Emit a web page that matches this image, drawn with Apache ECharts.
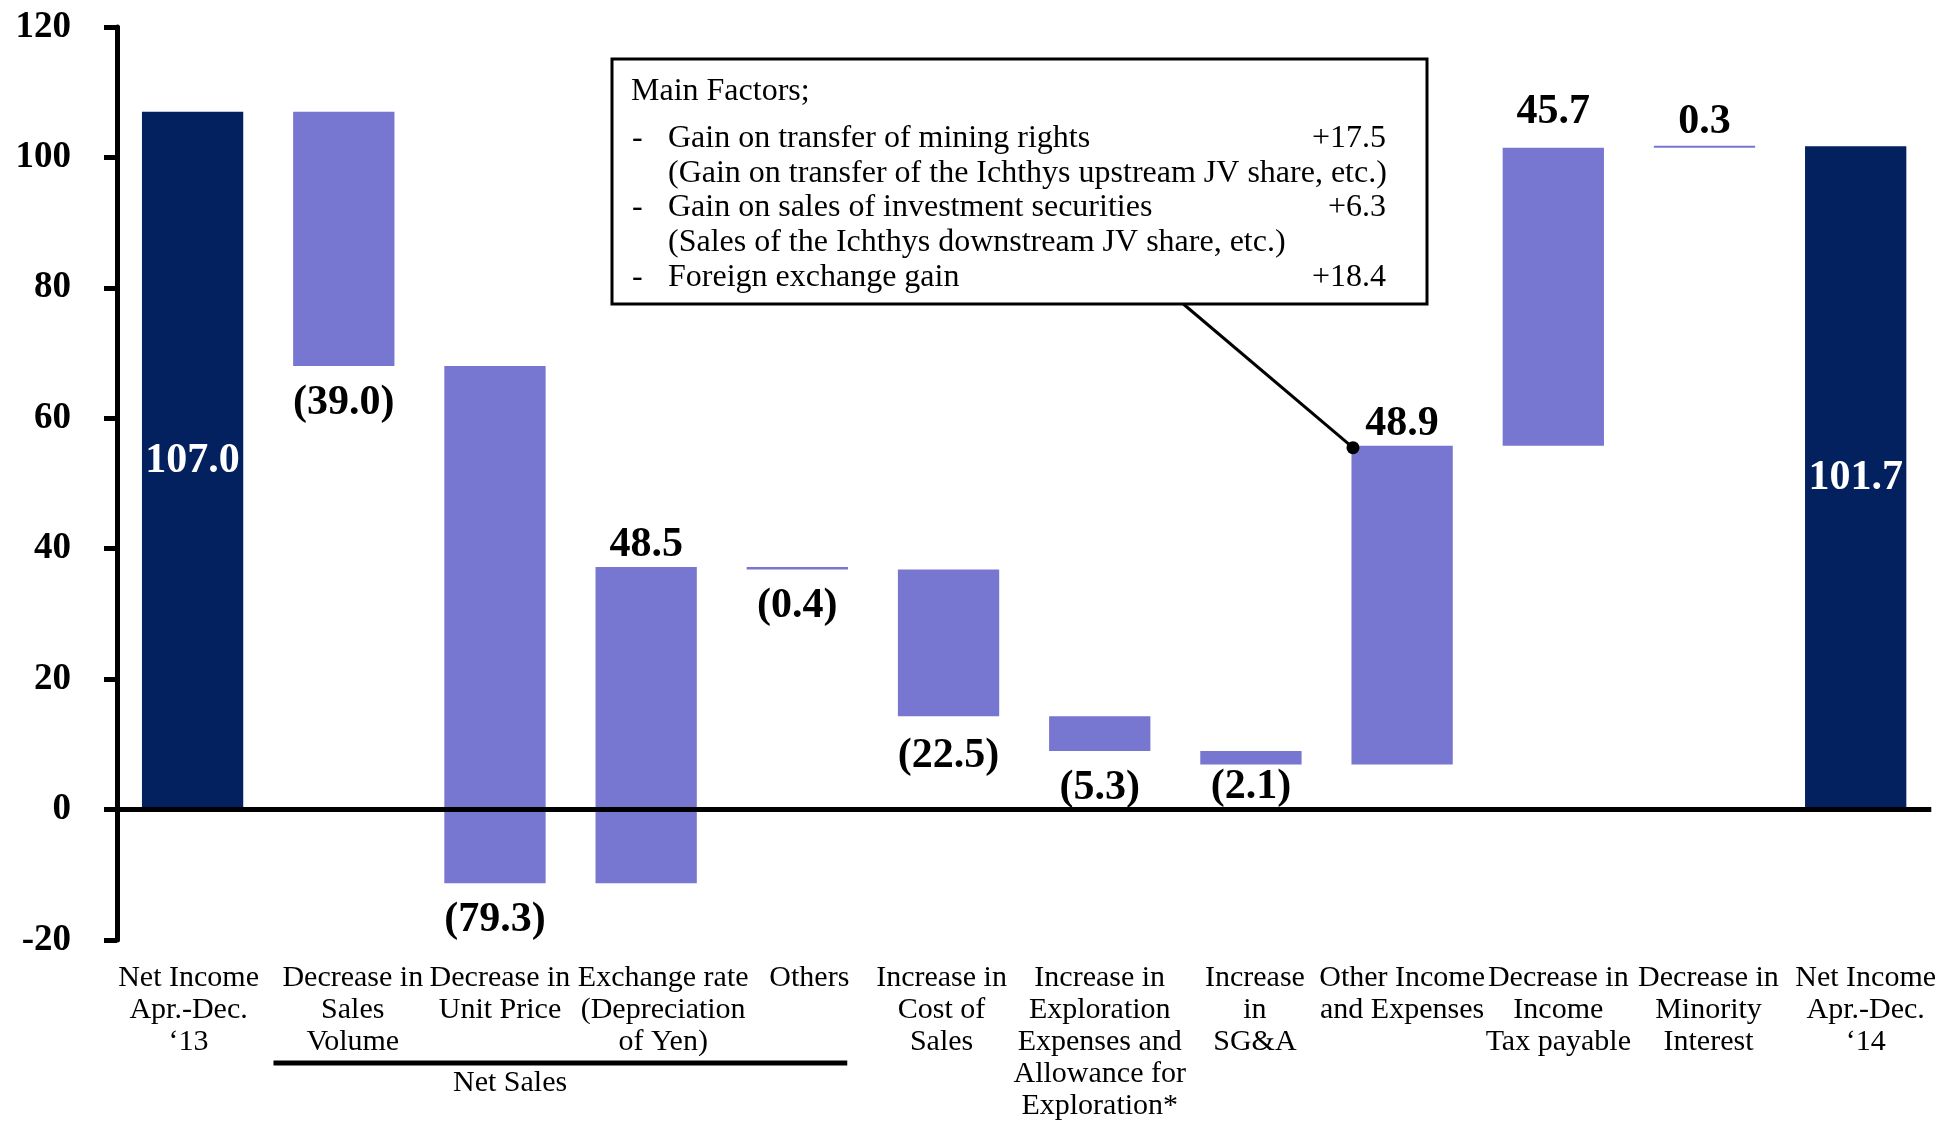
<!DOCTYPE html>
<html><head><meta charset="utf-8">
<script src="https://cdn.jsdelivr.net/npm/echarts@6/dist/echarts.min.js"></script>
<style>html,body{margin:0;padding:0;background:#fff}#c{width:1939px;height:1122px}</style>
</head><body><div id="c"></div>
<script>
// ---- data ----
const categories = [
  "Net Income\nApr.-Dec.\n\u201813",
  "Decrease in\nSales\nVolume",
  "Decrease in\nUnit Price",
  "Exchange rate\n(Depreciation\nof Yen)",
  "Others",
  "Increase in\nCost of\nSales",
  "Increase in\nExploration\nExpenses and\nAllowance for\nExploration*",
  "Increase\nin\nSG&A",
  "Other Income\nand Expenses",
  "Decrease in\nIncome\nTax payable",
  "Decrease in\nMinority\nInterest",
  "Net Income\nApr.-Dec.\n\u201814"
];
const changes = [107.0, -39.0, -79.3, 48.5, -0.4, -22.5, -5.3, -2.1, 48.9, 45.7, 0.3, 101.7];
const isTotal = [true, false, false, false, false, false, false, false, false, false, false, true];
const valueLabels = ["107.0", "(39.0)", "(79.3)", "48.5", "(0.4)", "(22.5)", "(5.3)", "(2.1)", "48.9", "45.7", "0.3", "101.7"];
const yTicks = [-20, 0, 20, 40, 60, 80, 100, 120];
const groupLabel = "Net Sales";
const groupFirst = 1, groupLast = 4;
const calloutTitle = "Main Factors;";
const calloutItems = [
  ["-", "Gain on transfer of mining rights", "+17.5"],
  ["", "(Gain on transfer of the Ichthys upstream JV share, etc.)", ""],
  ["-", "Gain on sales of investment securities", "+6.3"],
  ["", "(Sales of the Ichthys downstream JV share, etc.)", ""],
  ["-", "Foreign exchange gain", "+18.4"]
];
const calloutTarget = 8; // "Other Income and Expenses"

// ---- layout / style tweaks (pixels) ----
const labelGapDefault = { top: 1, bottom: 16 };
const labelGapOverride = { 5: 19, 7: 2, 9: 14, 10: 3 };
const catLabelShift = [-4, 9, 5, 17, 12, -7, 0, 4, 0, 5, 4, 10];

// ---- build ranges ----
let running = 0;
const barData = changes.map((v, i) => {
  let lo, hi;
  if (isTotal[i]) { lo = 0; hi = v; running = v; }
  else { const s = running; running = s + v; lo = Math.min(s, running); hi = Math.max(s, running); }
  return [i, lo, hi];
});

const FONT = "'Liberation Serif', 'DejaVu Serif', serif";
const NAVY = "#03205F", LILAC = "#7776D0";

const rich = {};
catLabelShift.forEach((s, i) => {
  rich['s' + i] = {
    fontFamily: FONT, fontSize: 30, lineHeight: 32, color: '#000',
    padding: s >= 0 ? [0, 0, 0, 2 * s] : [0, -2 * s, 0, 0]
  };
});

const chart = echarts.init(document.getElementById('c'));
chart.setOption({
  animation: false,
  backgroundColor: '#fff',
  grid: { left: 117, right: 6, top: 27, bottom: 175, containLabel: false },
  xAxis: {
    type: 'category', data: categories,
    axisLine: { show: false }, axisTick: { show: false },
    axisLabel: {
      interval: 0, color: '#000', fontFamily: FONT, fontSize: 30, lineHeight: 32, margin: 22, verticalAlign: 'top',
      formatter: (val, idx) => val.split('\n').map(l => '{s' + idx + '|' + l + '}').join('\n'),
      rich: rich
    }
  },
  yAxis: {
    type: 'value', min: yTicks[0], max: yTicks[yTicks.length - 1], interval: 20,
    splitLine: { show: false },
    axisLine: { show: true, lineStyle: { color: '#000', width: 5 } },
    axisTick: { show: true, inside: false, length: 13, lineStyle: { color: '#000', width: 5 } },
    axisLabel: { color: '#000', fontFamily: FONT, fontWeight: 'bold', fontSize: 37, margin: 46 }
  },
  series: [{
    type: 'custom',
    data: barData,
    encode: { x: 0, y: [1, 2] },
    renderItem: function (params, api) {
      const i = params.dataIndex;
      const x = api.value(0), lo = api.value(1), hi = api.value(2);
      const pTop = api.coord([x, hi]);
      const pBot = api.coord([x, lo]);
      const w = api.size([1, 0])[0] * 0.67;
      const total = isTotal[i];
      const up = changes[i] >= 0;
      const gap = (i in labelGapOverride) ? labelGapOverride[i] : (up ? labelGapDefault.top : labelGapDefault.bottom);
      return {
        type: 'rect',
        shape: { x: pTop[0] - w / 2, y: pTop[1], width: w, height: Math.max(pBot[1] - pTop[1], 2) },
        style: { fill: total ? NAVY : LILAC },
        textContent: {
          style: {
            text: valueLabels[i], fill: total ? '#fff' : '#000',
            font: "bold 42px " + FONT
          }
        },
        textConfig: { position: total ? 'inside' : (up ? 'top' : 'bottom'), distance: gap }
      };
    },
    markLine: {
      silent: true, symbol: 'none', label: { show: false },
      lineStyle: { color: '#000', width: 5, type: 'solid' },
      data: [{ yAxis: 0 }]
    },
    z: 2
  }]
});

// ---- annotations (positioned from axis coordinates) ----
function px(ci, v) { return chart.convertToPixel({ xAxisIndex: 0, yAxisIndex: 0 }, [ci, v]); }
const band = px(1, 0)[0] - px(0, 0)[0];
const axisBottomY = px(0, yTicks[0])[1];
const bL = px(groupFirst, 0)[0] - band * 0.465;
const bR = px(groupLast, 0)[0] + band * 0.33;
const bY = axisBottomY + 123;

const tgt = barData[calloutTarget];
const dot = px(calloutTarget, tgt[2]);
dot[0] -= band * 0.325;
dot[1] += 2;

const boxX = 612, boxY = 59, boxW = 815, boxH = 245;
const lineYs = [138.5, 173.5, 207.5, 242.5, 277.5];
const CF = "32px " + FONT;
const calloutEls = [
  { type: 'rect', shape: { x: boxX, y: boxY, width: boxW, height: boxH }, style: { fill: '#fff', stroke: '#000', lineWidth: 3 }, z: 10 },
  { type: 'text', x: boxX + 19, y: 91.5, style: { text: calloutTitle, font: CF, fill: '#000', verticalAlign: 'middle' }, z: 11 }
];
calloutItems.forEach((it, k) => {
  if (it[0]) calloutEls.push({ type: 'text', x: boxX + 20, y: lineYs[k], style: { text: it[0], font: CF, fill: '#000', verticalAlign: 'middle' }, z: 11 });
  calloutEls.push({ type: 'text', x: boxX + 56, y: lineYs[k], style: { text: it[1], font: CF, fill: '#000', verticalAlign: 'middle' }, z: 11 });
  if (it[2]) calloutEls.push({ type: 'text', x: boxX + 774, y: lineYs[k], style: { text: it[2], font: CF, fill: '#000', align: 'right', verticalAlign: 'middle' }, z: 11 });
});

chart.setOption({
  graphic: [
    { type: 'line', shape: { x1: bL, y1: bY, x2: bR, y2: bY }, style: { stroke: '#000', lineWidth: 5 } },
    { type: 'text', x: px(groupFirst, 0)[0] + band * 1.1, y: bY + 20, style: { text: groupLabel, font: "30px " + FONT, fill: '#000', align: 'center', verticalAlign: 'middle' } },
    { type: 'line', shape: { x1: boxX + boxW * 0.701, y1: boxY + boxH, x2: dot[0], y2: dot[1] }, style: { stroke: '#000', lineWidth: 3 }, z: 12 },
    { type: 'circle', shape: { cx: dot[0], cy: dot[1], r: 6.5 }, style: { fill: '#000' }, z: 12 }
  ].concat(calloutEls)
});
</script>
</body></html>
